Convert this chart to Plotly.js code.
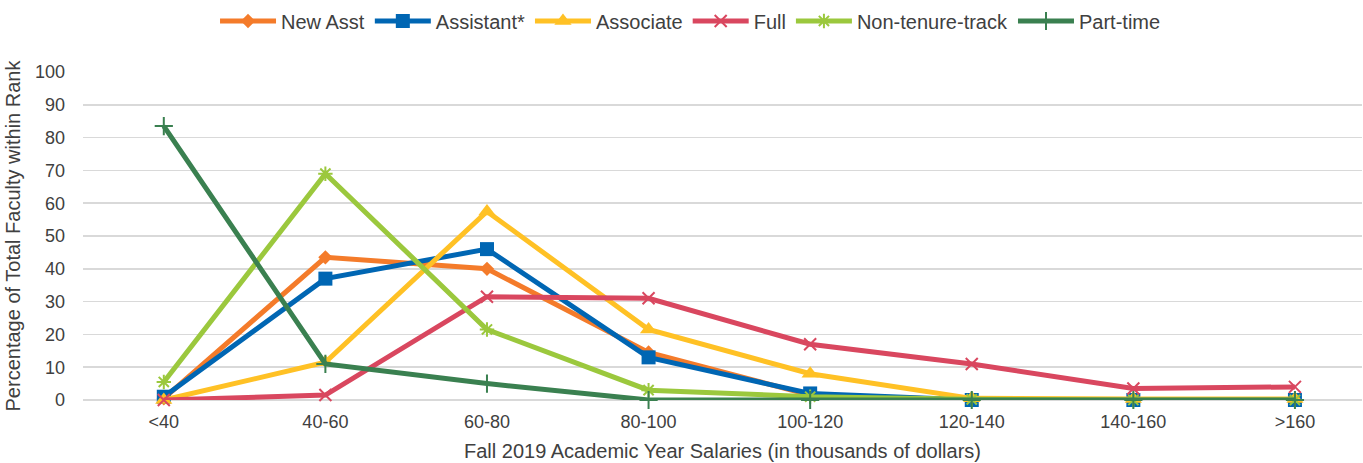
<!DOCTYPE html>
<html>
<head>
<meta charset="utf-8">
<script src="https://cdn.plot.ly/plotly-3.0.1.min.js"></script>
<style>html,body{margin:0;padding:0;background:#fff}#chart{width:1363px;height:463px}</style>
</head>
<body>
<div id="chart"></div>
<script>
const categories = ["<40", "40-60", "60-80", "80-100", "100-120", "120-140", "140-160", ">160"];
const newAsst = [0.5, 43.5, 40, 14.5, 1.5, 0, 0, 0];
const assistant = [1, 37, 46, 13, 2, 0, 0, 0];
const associate = [0, 11.5, 57.5, 21.5, 8, 0.5, 0.3, 0.3];
const full = [0, 1.5, 31.5, 31, 17, 11, 3.5, 4];
const nonTenure = [5.5, 69, 21.5, 3, 1, 0.2, 0, 0];
const partTime = [83.5, 11, 5, 0, 0, 0, 0, 0];
const seriesNames = ["New Asst", "Assistant*", "Associate", "Full", "Non-tenure-track", "Part-time"];

const styles = [
  {color: "#F47B2A", symbol: "diamond", size: 11, lw: 0},
  {color: "#0066B3", symbol: "square", size: 14, lw: 0},
  {color: "#FFC125", symbol: "triangle-up", size: 15, lw: 0},
  {color: "#D9475F", symbol: "x-thin", size: 12, lw: 2},
  {color: "#9BC83D", symbol: "asterisk", size: 12, lw: 2},
  {color: "#3A8050", symbol: "cross-thin", size: 13, lw: 2}
];
const values = [newAsst, assistant, associate, full, nonTenure, partTime];

const traces = values.map((v, i) => ({
  type: "scatter",
  mode: "lines+markers",
  name: seriesNames[i],
  x: categories,
  y: v,
  cliponaxis: false,
  line: {color: styles[i].color, width: 5},
  marker: {
    color: styles[i].color,
    symbol: styles[i].symbol,
    size: styles[i].size,
    line: {color: styles[i].color, width: styles[i].lw}
  }
}));

const layout = {
  width: 1363,
  height: 463,
  margin: {l: 83, r: 1, t: 68, b: 63},
  paper_bgcolor: "#fff",
  plot_bgcolor: "#fff",
  font: {family: "Liberation Sans, Arial, sans-serif", size: 18, color: "#404040"},
  showlegend: true,
  legend: {
    orientation: "h",
    x: 0.475, xanchor: "center",
    y: 1.215, yanchor: "top",
    font: {size: 20, color: "#404040"},
    itemwidth: 56,
    itemgap: 50,
    traceorder: "normal"
  },
  xaxis: {
    type: "category",
    range: [-0.5, 7.415],
    showgrid: false,
    zeroline: false,
    showline: false,
    ticks: "",
    ticklabelstandoff: 9,
    tickfont: {size: 18, color: "#404040"},
    title: {text: "Fall 2019 Academic Year Salaries (in thousands of dollars)", font: {size: 20, color: "#404040"}, standoff: 12},
    automargin: false
  },
  yaxis: {
    range: [0, 100],
    dtick: 10,
    showgrid: true,
    gridcolor: "#D9D9D9",
    gridwidth: 1.5,
    zeroline: true,
    zerolinecolor: "#D9D9D9",
    zerolinewidth: 1.5,
    showline: false,
    ticks: "",
    ticklabelstandoff: 17,
    tickfont: {size: 18, color: "#404040"},
    title: {text: "Percentage of Total Faculty within Rank", font: {size: 20, color: "#404040"}, standoff: 8},
    automargin: false
  }
};

Plotly.newPlot("chart", traces, layout, {displayModeBar: false, staticPlot: true});
</script>
</body>
</html>
